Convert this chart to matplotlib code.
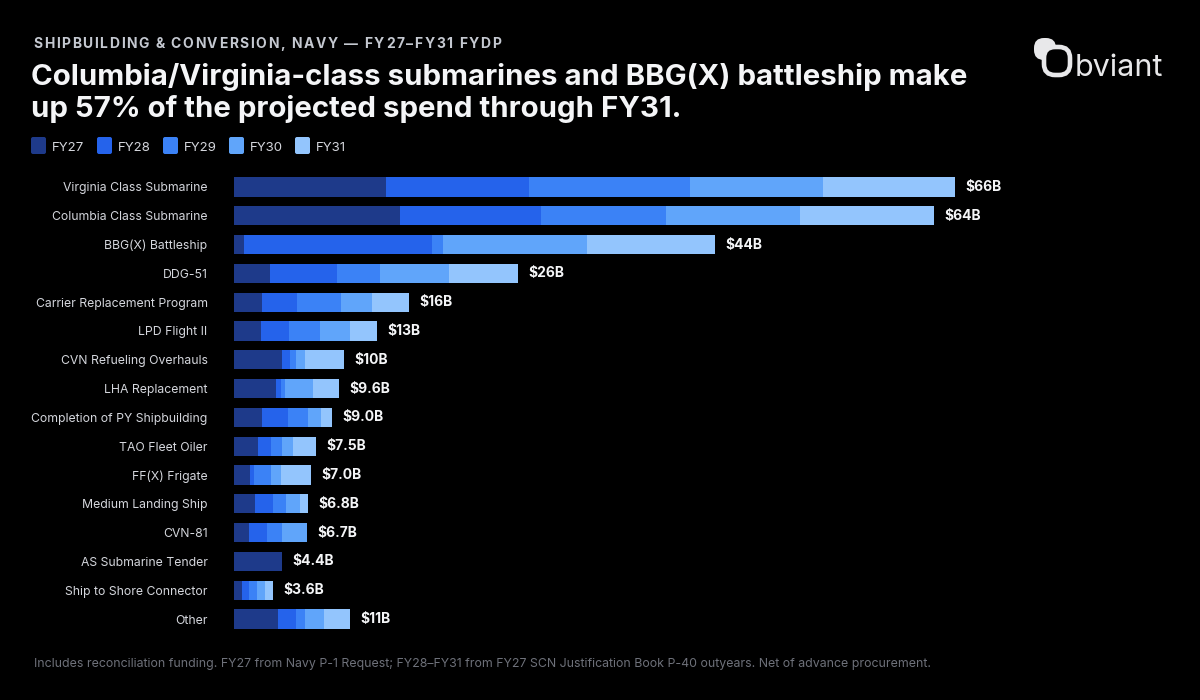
import numpy as np
import matplotlib
matplotlib.use("Agg")
import matplotlib.pyplot as plt
from matplotlib.patches import FancyBboxPatch

plt.rcParams['font.family'] = ['Inter', 'DejaVu Sans']

categories = [
    "Virginia Class Submarine", "Columbia Class Submarine", "BBG(X) Battleship",
    "DDG-51", "Carrier Replacement Program", "LPD Flight II",
    "CVN Refueling Overhauls", "LHA Replacement", "Completion of PY Shipbuilding",
    "TAO Fleet Oiler", "FF(X) Frigate", "Medium Landing Ship", "CVN-81",
    "AS Submarine Tender", "Ship to Shore Connector", "Other",
]
# $B per fiscal year
fy27 = [13.9, 15.2, 0.9, 3.3, 2.6, 2.5, 4.4, 3.8, 2.6, 2.2, 1.5, 1.9, 1.4, 4.4, 0.7, 4.0]
fy28 = [13.1, 12.9, 17.2, 6.1, 3.2, 2.5, 0.7, 0.5, 2.3, 1.2, 0.3, 1.7, 1.6, 0.0, 0.7, 1.7]
fy29 = [14.7, 11.4, 1.0, 4.0, 4.0, 2.9, 0.6, 0.4, 1.9, 1.0, 1.6, 1.2, 1.4, 0.0, 0.7, 0.8]
fy30 = [12.2, 12.3, 13.2, 6.3, 2.8, 2.7, 0.8, 2.5, 1.2, 1.0, 0.9, 1.2, 2.3, 0.0, 0.7, 1.7]
fy31 = [12.1, 12.2, 11.7, 6.3, 3.4, 2.5, 3.6, 2.4, 1.0, 2.1, 2.7, 0.8, 0.0, 0.0, 0.8, 2.4]
years = ["FY27", "FY28", "FY29", "FY30", "FY31"]
colors = ["#1e3a8a", "#2563eb", "#3b82f6", "#60a5fa", "#93c5fd"]

subtitle = "SHIPBUILDING & CONVERSION, NAVY \u2014 FY27\u2013FY31 FYDP"
title_lines = ["Columbia/Virginia-class submarines and BBG(X) battleship make",
               "up 57% of the projected spend through FY31."]
footnote = ("Includes reconciliation funding. FY27 from Navy P-1 Request; "
            "FY28\u2013FY31 from FY27 SCN Justification Book P-40 outyears. "
            "Net of advance procurement.")

BG = "#000000"
W, H = 1200, 700
fig = plt.figure(figsize=(12, 7), dpi=100, facecolor=BG)

# overlay axes in pixel coords for header / legend / logo / footer
ov = fig.add_axes([0, 0, 1, 1], zorder=0)
ov.set_xlim(0, W)
ov.set_ylim(H, 0)
ov.axis("off")
ov.set_facecolor("none")

# letter-spaced subtitle
renderer = fig.canvas.get_renderer()
prop = matplotlib.font_manager.FontProperties(family=['Inter', 'DejaVu Sans'],
                                              weight='bold', size=10)
track = 1.6
x0 = 33
for i, ch in enumerate(subtitle):
    wpre = renderer.get_text_width_height_descent(subtitle[:i], prop, ismath=False)[0] if i else 0
    ov.text(x0 + wpre + i * track, 48, ch, fontproperties=prop, color="#c4c8d0",
            va="baseline", ha="left")

for k, line in enumerate(title_lines):
    ov.text(31, 85 + k * 32, line, fontsize=21.2, fontweight="bold",
            color="#f4f5f7", va="baseline", ha="left")

# legend
for k, (yr, c) in enumerate(zip(years, colors)):
    lx = 31 + k * 66
    ov.add_patch(FancyBboxPatch((lx, 137), 15, 17, boxstyle="round,pad=0,rounding_size=2",
                                facecolor=c, edgecolor="none"))
    ov.text(lx + 21, 151, yr, fontsize=9.5, color="#d4d6dc", va="baseline", ha="left")

# logo
ov.add_patch(FancyBboxPatch((1034, 38), 22, 22, boxstyle="round,pad=0,rounding_size=10",
                            facecolor="#e8e8ea", edgecolor="none"))
ov.add_patch(FancyBboxPatch((1044, 47), 26, 28, boxstyle="round,pad=0,rounding_size=11",
                            facecolor=BG, edgecolor="#e8e8ea", linewidth=3.3))
ov.text(1075, 76, "bviant", fontsize=22, color="#e8e8ea", va="baseline", ha="left")

ov.text(34, 667, footnote, fontsize=8.9, color="#6e717a", va="baseline", ha="left")

# main bar chart
px_per_b = 10.93
left_px, top_px, bot_px = 234, 172.6, 633.4
xmax = 80
ax = fig.add_axes([left_px / W, 1 - bot_px / H, xmax * px_per_b / W, (bot_px - top_px) / H],
                  zorder=1)
ax.set_facecolor("none")
y = np.arange(len(categories))
data = np.array([fy27, fy28, fy29, fy30, fy31])
lefts = np.zeros(len(categories))
for vals, c in zip(data, colors):
    ax.barh(y, vals, left=lefts, height=0.67, color=c, linewidth=0)
    lefts += vals

for yi, tot in zip(y, lefts):
    tot = round(tot, 1)
    lab = f"${tot:.0f}B" if tot >= 10 else f"${tot:.1f}B"
    ax.annotate(lab, (tot, yi), xytext=(7.5, 0), textcoords="offset points",
                va="center", ha="left", fontsize=10, fontweight="bold", color="#f4f5f7")

ax.set_xlim(0, xmax)
ax.set_ylim(len(categories) - 0.5, -0.5)
ax.set_yticks(y)
ax.set_yticklabels(categories, fontsize=8.8, color="#d4d6dc")
ax.tick_params(axis="y", length=0, pad=19)
ax.set_xticks([])
for s in ax.spines.values():
    s.set_visible(False)

fig.savefig("out.png", dpi=100, facecolor=BG)
